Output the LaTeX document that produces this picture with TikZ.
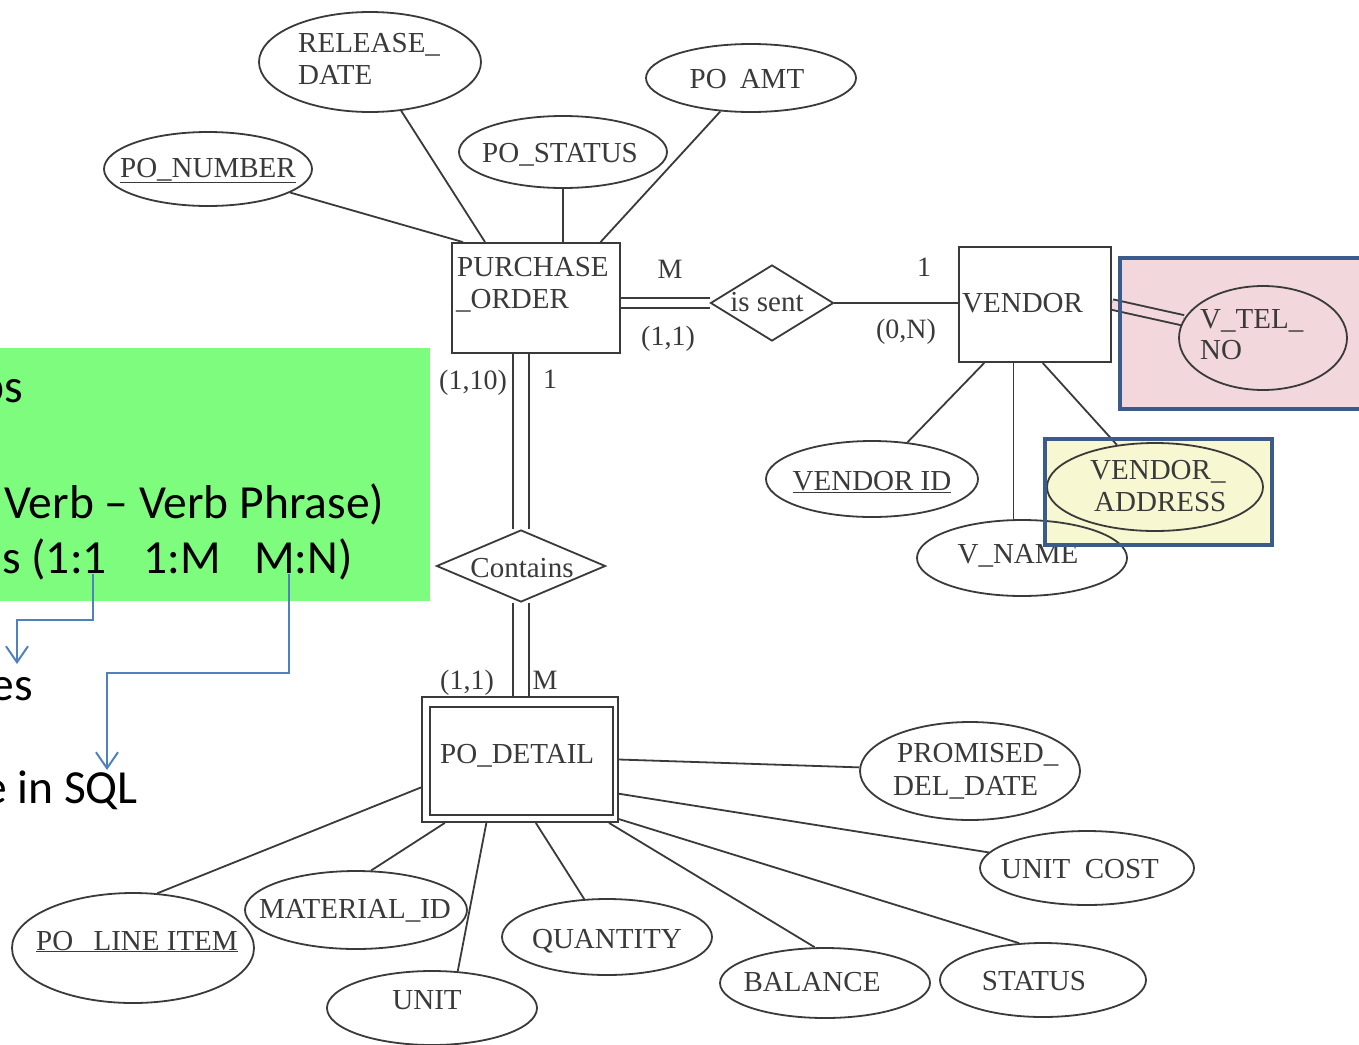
\documentclass[tikz,border=0pt]{standalone}
\usepackage{fontspec}
\usetikzlibrary{shapes.geometric,arrows.meta,calc}
\newfontfamily\erfont{Liberation Serif}
\newfontfamily\slidefont[Ligatures=TeX]{Carlito}
\definecolor{erink}{HTML}{3A3A3A}
\definecolor{slidegreen}{HTML}{7DFC7D}
\definecolor{telpink}{HTML}{F2D8DC}
\definecolor{addryellow}{HTML}{F7F7D2}
\definecolor{frameblue}{HTML}{3B5B8C}
\definecolor{arrowblue}{HTML}{4F81BD}
\pgfdeclarelayer{fills}
\pgfdeclarelayer{links}
\pgfdeclarelayer{frames}
\pgfdeclarelayer{slide}
\pgfsetlayers{fills,links,main,frames,slide}
\tikzset{
  erline/.style={draw=erink, line width=1.8pt},
  entity/.style={rectangle, erline, inner sep=0},
  attr/.style={ellipse, erline, inner sep=0},
  rel/.style={diamond, erline, inner sep=0},
  dbl/.style={draw=erink, line width=1.9pt, double=white, double distance=8.5pt},
  dblwide/.style={dbl, double distance=13.5pt},
  ertxt/.style={font=\erfont\fontsize{29}{32}\selectfont, text=erink, inner sep=0},
  cardtxt/.style={font=\erfont\fontsize{28}{32}\selectfont, text=erink, inner sep=0, anchor=base},
  slidetxt/.style={font=\slidefont\fontsize{47.5}{56}\selectfont, text=black, inner sep=0},
  hlframe/.style={draw=frameblue, line width=4pt},
  slidearrow/.style={draw=arrowblue, line width=2pt, -{Straight Barb[length=16pt,width=22pt]}},
}
\begin{document}
\begin{tikzpicture}[x=1pt, y=-1pt]
\useasboundingbox (0,0) rectangle (1359,1044);

% page and highlight fills
\begin{pgfonlayer}{fills}
  \fill[white] (0,0) rectangle (1359,1044);
  \fill[telpink] (1120,258) rectangle (1380,409);
  \fill[addryellow] (1045,439) rectangle (1272,545);
\end{pgfonlayer}

% ---------- entities ----------
\node[entity, minimum width=168pt, minimum height=110pt] (po) at (536,298) {};
\node[ertxt, anchor=base west] (poL1) at (457,276) {PURCHASE};
\node[ertxt, anchor=base west] (poL2) at (456,308) {\_ORDER};

\node[entity, minimum width=152pt, minimum height=115pt] (vendor) at (1035,304.5) {};
\node[ertxt, anchor=base west] (vendorL) at (962,312) {VENDOR};

\node[entity, minimum width=196pt, minimum height=125pt] (pod) at (520,759.5) {};
\draw[erline] ([shift={(9,11)}]pod.north west) rectangle ([shift={(-6,-8)}]pod.south east);
\node[ertxt, anchor=base west] (podL) at (440,763) {PO\_DETAIL};

% ---------- relationships ----------
\node[rel, minimum width=123pt, minimum height=76pt] (issent) at (772,303) {};
\node[ertxt, anchor=base] (issentL) at (767,311) {is sent};
\node[rel, minimum width=169pt, minimum height=72pt] (contains) at (521,566) {};
\node[ertxt, anchor=base] (containsL) at (522,577) {Contains};

% ---------- attributes ----------
\node[attr, minimum width=222pt, minimum height=100pt] (relDate) at (370,62) {};
\node[ertxt, anchor=base west] (relDateL1) at (298,52) {RELEASE\_};
\node[ertxt, anchor=base west] (relDateL2) at (298,84) {DATE};

\node[attr, minimum width=210pt, minimum height=68pt] (poAmt) at (751,78) {};
\node[ertxt, anchor=base] (poAmtL) at (747,88) {PO\hspace{0.45em}AMT};

\node[attr, minimum width=208pt, minimum height=72pt] (poStatus) at (563,152) {};
\node[ertxt, anchor=base] (poStatusL) at (560,162) {PO\_STATUS};

\node[attr, minimum width=208pt, minimum height=74pt] (poNum) at (208,169) {};
\node[ertxt, anchor=base] (poNumL) at (208,177) {\underline{PO\_NUMBER}};

\node[attr, minimum width=212pt, minimum height=76pt] (vid) at (872,479) {};
\node[ertxt, anchor=base] (vidL) at (872,490) {\underline{VENDOR ID}};

\node[attr, minimum width=210pt, minimum height=76pt] (vname) at (1022,558) {};
\node[ertxt, anchor=base] (vnameL) at (1018,563) {V\_NAME};

\node[attr, minimum width=216pt, minimum height=88pt] (vaddr) at (1155,487) {};
\node[ertxt, anchor=base west] (vaddrL1) at (1090,479) {VENDOR\_};
\node[ertxt, anchor=base west] (vaddrL2) at (1094,511) {ADDRESS};

\node[attr, minimum width=168pt, minimum height=104pt] (vtel) at (1263,338) {};
\node[ertxt, anchor=base west] (vtelL1) at (1200,328) {V\_TEL\_};
\node[ertxt, anchor=base west] (vtelL2) at (1200,359) {NO};

\node[attr, minimum width=220pt, minimum height=98pt] (prom) at (970,771) {};
\node[ertxt, anchor=base west] (promL1) at (897,762) {PROMISED\_};
\node[ertxt, anchor=base west] (promL2) at (893,795) {DEL\_DATE};

\node[attr, minimum width=214pt, minimum height=74pt] (ucost) at (1087,868) {};
\node[ertxt, anchor=base] (ucostL) at (1080,878) {UNIT\hspace{0.5em}COST};

\node[attr, minimum width=206pt, minimum height=74pt] (status) at (1043,980) {};
\node[ertxt, anchor=base] (statusL) at (1034,990) {STATUS};

\node[attr, minimum width=210pt, minimum height=70pt] (balance) at (825,983) {};
\node[ertxt, anchor=base] (balanceL) at (812,991) {BALANCE};

\node[attr, minimum width=210pt, minimum height=76pt] (qty) at (607,937) {};
\node[ertxt, anchor=base] (qtyL) at (607,948) {QUANTITY};

\node[attr, minimum width=210pt, minimum height=74pt] (unit) at (432,1008) {};
\node[ertxt, anchor=base] (unitL) at (427,1009) {UNIT};

\node[attr, minimum width=222pt, minimum height=78pt] (mat) at (356,910) {};
\node[ertxt, anchor=base] (matL) at (355,918) {MATERIAL\_ID};

\node[attr, minimum width=242pt, minimum height=110pt] (poli) at (133,948) {};
\node[ertxt, anchor=base] (poliL) at (137,950) {\underline{PO\hspace{0.7em}LINE ITEM}};

% ---------- cardinalities ----------
\node[cardtxt] (cM1) at (670,278) {M};
\node[cardtxt] (c11a) at (668,345) {(1,1)};
\node[cardtxt] (cOne1) at (924,276) {1};
\node[cardtxt] (c0N) at (906,338) {(0,N)};
\node[cardtxt] (c110) at (473,389) {(1,10)};
\node[cardtxt] (cOne2) at (550,388) {1};
\node[cardtxt] (c11b) at (467,689) {(1,1)};
\node[cardtxt] (cM2) at (545,689) {M};

% ---------- connectors ----------
\begin{pgfonlayer}{links}
  % purchase order attributes
  \draw[erline] ($(po.north west)!0.07!(po.north east)$) -- (poNum);
  \draw[erline] ($(po.north west)!0.2!(po.north east)$) -- (relDate);
  \draw[erline] (po.north -| poStatus.south) -- (poStatus.south);
  \draw[erline] ($(po.north west)!0.88!(po.north east)$) -- (poAmt);
  % relationships
  \draw[dbl] (issent.west -| po.east) -- (issent.west);
  \draw[erline] (issent.east) -- (issent.east -| vendor.west);
  \draw[dblwide] (po.south -| contains.north) -- (contains.north);
  \draw[dblwide] (contains.south) -- (contains.south |- pod.north);
  % vendor attributes
  \draw[erline] ($(vendor.south west)!0.17!(vendor.south east)$) -- (vid);
  \coordinate (vnTop) at ($(vendor.south west)!0.36!(vendor.south east)$);
  \draw[erline] (vnTop) -- (vnTop |- vname.north);
  \draw[erline] ($(vendor.south west)!0.55!(vendor.south east)$) -- (vaddr);
  \draw[dbl, double=telpink] (vendor.east) -- (vtel);
  % po detail attributes
  \draw[erline] (pod.east) -- (prom);
  \draw[erline] ($(pod.north east)!0.77!(pod.south east)$) -- (ucost);
  \draw[erline] ($(pod.north east)!0.97!(pod.south east)$) -- (status.123);
  \draw[erline] ($(pod.south west)!0.95!(pod.south east)$) -- (balance.106);
  \draw[erline] ($(pod.south west)!0.58!(pod.south east)$) -- (qty.121);
  \draw[erline] ($(pod.south west)!0.33!(pod.south east)$) -- (unit.55);
  \draw[erline] ($(pod.south west)!0.12!(pod.south east)$) -- (mat.69);
  \draw[erline] ($(pod.north west)!0.72!(pod.south west)$) -- (poli.66);
\end{pgfonlayer}

% highlight frames
\begin{pgfonlayer}{frames}
  \draw[hlframe] (1380,258) -- (1120,258) -- (1120,409) -- (1380,409);
  \draw[hlframe] (1045,439) rectangle (1272,545);
\end{pgfonlayer}

% slide text panel with arrows
\begin{pgfonlayer}{slide}
  \fill[slidegreen] (0,348) rectangle (430,601);
  \node[slidetxt, anchor=base east] (sl1) at (23,402) {ps};
  \node[slidetxt, anchor=base west] (sl2) at (4,518) {Verb – Verb Phrase)};
  \node[slidetxt, anchor=base east] (sl3a) at (107,573) {s (1:1};
  \node[slidetxt, anchor=base west] (sl3b) at (143,573) {1:M};
  \node[slidetxt, anchor=base west] (sl3c) at (254,573) {M:N)};
  \node[slidetxt, anchor=base east] (sl4) at (33,700) {es};
  \node[slidetxt, anchor=base east] (sl5) at (138,803) {e in SQL};
  \coordinate (ar1s) at (93,574);
  \coordinate (ar1e) at (17,664);
  \coordinate (ar2s) at (289,574);
  \coordinate (ar2e) at (107,770);
  \draw[slidearrow] (ar1s) -- ++(0,46) -| (ar1e);
  \draw[slidearrow] (ar2s) -- ++(0,99) -| (ar2e);
\end{pgfonlayer}
\end{tikzpicture}
\end{document}
